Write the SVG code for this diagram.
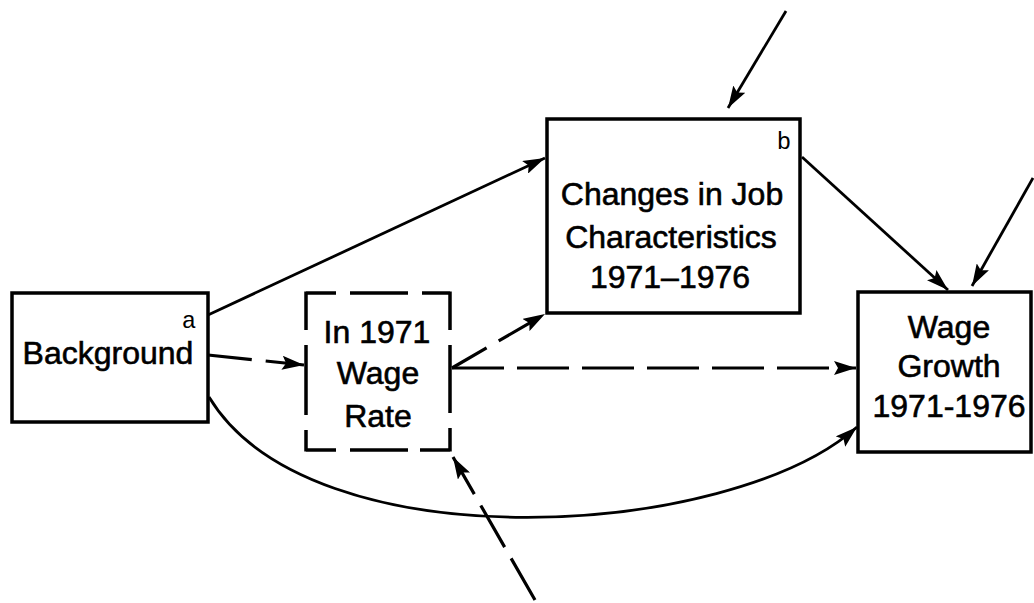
<svg xmlns="http://www.w3.org/2000/svg" width="1034" height="603" viewBox="0 0 1034 603">
<style>
.box{fill:#fff;stroke:#000;stroke-width:3.5}
.edge{fill:none;stroke:#000;stroke-width:3.5;stroke-linecap:butt}
.t{font-family:"Liberation Sans",Arial,sans-serif;font-size:32px;fill:#000;stroke:#000;stroke-width:0.6;text-anchor:middle}
.s{font-family:"Liberation Mono","Courier New",monospace;font-size:24px;fill:#000;text-anchor:middle}
.c{fill:none;stroke:#000;stroke-width:2.8}
.d{fill:none;stroke:#000;stroke-width:3.2}
</style>
<defs>
<marker id="ah" markerUnits="userSpaceOnUse" markerWidth="24" markerHeight="14" refX="22" refY="7" orient="auto">
<path d="M0,0 L22,7 L0,14 L4,7 Z" fill="#000"/>
</marker>
</defs>
<rect width="1034" height="603" fill="#fff"/>
<g id="connectors">
<line class="c" x1="208" y1="315" x2="545" y2="158" marker-end="url(#ah)"/>
<line class="d" x1="208" y1="355" x2="304" y2="365" stroke-dasharray="44 14" marker-end="url(#ah)"/>
<path class="c" d="M209,397 C310,565 730,540 857,427" marker-end="url(#ah)"/>
<line class="d" x1="452" y1="368" x2="545" y2="314" stroke-dasharray="40 14" marker-end="url(#ah)"/>
<line class="d" x1="452" y1="368" x2="856" y2="368" stroke-dasharray="52 13" marker-end="url(#ah)"/>
<line class="c" x1="802" y1="157" x2="948" y2="290" marker-end="url(#ah)"/>
<line class="c" x1="786" y1="11" x2="728" y2="108" marker-end="url(#ah)"/>
<line class="c" x1="1033" y1="178" x2="972" y2="286" marker-end="url(#ah)"/>
<line class="d" x1="535" y1="600" x2="453" y2="457" stroke-dasharray="48 13" marker-end="url(#ah)"/>
</g>
<g id="background">
<rect class="box" x="12" y="293" width="196" height="129"/>
<text class="s" x="189" y="328">a</text>
<text class="t" x="108" y="364">Background</text>
</g>
<g id="wage1971">
<path class="edge" d="M306,293 H336 M350,293 H408 M422,293 H450 M306,291.5 V330 M306,345 V415 M306,430 V451.5 M450,291.5 V330 M450,345 V413 M450,428 V451.5 M306,450 H336 M350,450 H408 M420,450 H450"/>
<text class="t" x="377" y="343">In 1971</text>
<text class="t" x="378" y="384">Wage</text>
<text class="t" x="378" y="427">Rate</text>
</g>
<g id="jobchanges">
<rect class="box" x="547" y="119" width="253" height="194"/>
<text class="s" x="784" y="149">b</text>
<text class="t" x="672" y="205">Changes in Job</text>
<text class="t" x="671" y="248">Characteristics</text>
<text class="t" x="670" y="288">1971–1976</text>
</g>
<g id="wagegrowth">
<rect class="box" x="858" y="292" width="173" height="160"/>
<text class="t" x="949" y="338">Wage</text>
<text class="t" x="949" y="377">Growth</text>
<text class="t" x="949" y="417">1971-1976</text>
</g>
</svg>
